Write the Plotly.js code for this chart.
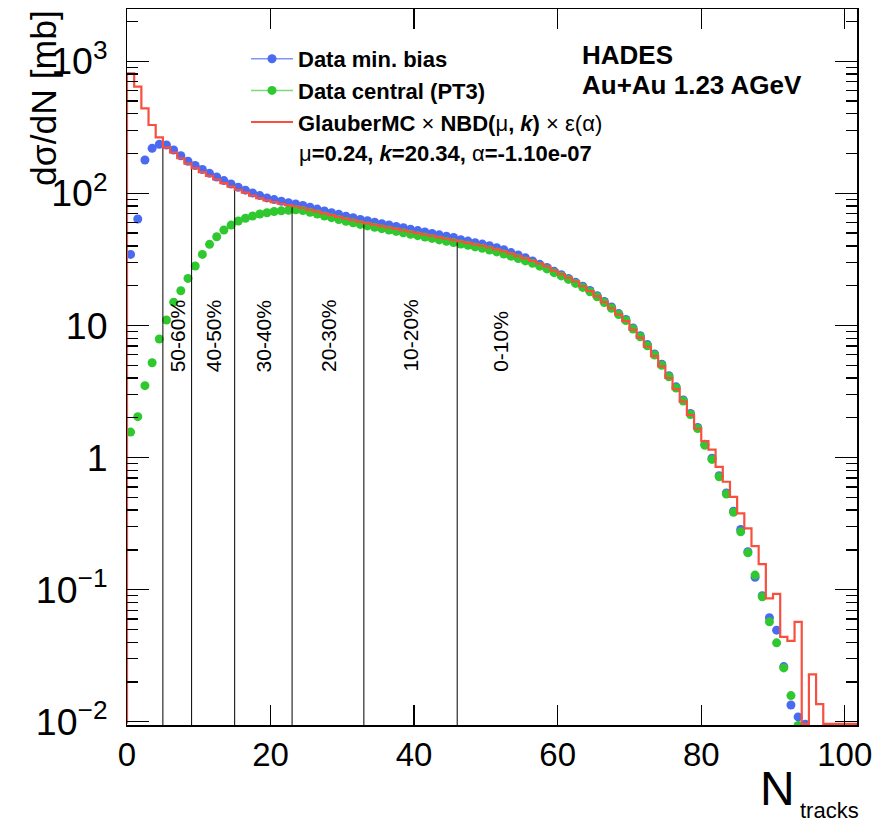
<!DOCTYPE html>
<html>
<head>
<meta charset="utf-8">
<script src="https://cdn.plot.ly/plotly-3.0.1.min.js"></script>
<style>html,body{margin:0;padding:0;background:#fff;}</style>
</head>
<body>
<div id="chart" style="width:892px;height:823px;"></div>
<script>
// ---- data ----
// bin i spans [i, i+1) in N_tracks; markers drawn at bin centres
const minBias = [34.5, 63.9, 178.7, 219, 234.9, 232.1, 212.7, 192.6, 175, 162.3,
  151.4, 141.7, 132.9, 124.8, 117.6, 111.2, 105.6, 100.5, 96.1, 92.3,
  89.6, 87.1, 84.9, 83.0, 80.9, 78.4, 76.0, 73.6, 71.4, 69.3,
  67.2, 65.4, 63.5, 62.0, 60.4, 58.9, 57.6, 56.2, 54.9, 53.5,
  52.2, 51.0, 49.7, 48.5, 47.3, 46.3, 44.5, 43.5, 42.3, 41.3,
  40.1, 38.7, 37.4, 35.6, 34.2, 32.6, 30.8, 29.0, 27.5, 25.7,
  24.2, 22.7, 21.2, 19.8, 18.4, 16.8, 15.2, 13.8, 12.3, 11.1,
  9.58, 8.37, 7.16, 6.09, 5.09, 4.17, 3.43, 2.73, 2.16, 1.69,
  1.26, 0.988, 0.730, 0.540, 0.393, 0.286, 0.194, 0.124, 0.0900, 0.0613,
  0.0494, 0.0262, 0.0134, 0.0109, 0.0096];

const central = [1.56, 2.04, 3.50, 5.22, 7.89, 11.0, 15.0, 18.3, 22.7, 28.2,
  34.5, 41.1, 46.9, 52.8, 57.5, 61.7, 64.7, 67.3, 69.7, 71.3,
  72.8, 73.7, 74.5, 75.0, 74.1, 71.8, 69.6, 67.4, 65.4, 63.4,
  61.5, 59.9, 58.2, 56.7, 55.3, 54.0, 52.7, 51.5, 50.2, 49.0,
  47.8, 46.7, 45.6, 44.4, 43.4, 42.4, 41.3, 40.4, 39.3, 38.4,
  37.2, 36.0, 34.7, 33.4, 32.1, 30.8, 29.5, 28.1, 26.8, 25.1,
  23.7, 22.3, 20.8, 19.4, 18.0, 16.5, 14.9, 13.5, 12.1, 10.9,
  9.39, 8.21, 7.02, 5.97, 4.99, 4.09, 3.36, 2.68, 2.12, 1.66,
  1.24, 0.969, 0.716, 0.529, 0.385, 0.274, 0.190, 0.129, 0.0884, 0.0571,
  0.0396, 0.0256, 0.0158, 0.0094];

// GlauberMC x NBD x eff histogram (0 = empty bin, drawn on the frame bottom like ROOT)
const glauber = [809.8, 641, 440, 328.9, 265.4, 222.1, 203.6, 184.3, 167.5, 155.3,
  144.9, 135.6, 127.2, 119.4, 112.5, 106.4, 101.1, 96.2, 92.0, 88.3,
  85.7, 83.4, 81.3, 79.8, 77.4, 75.0, 72.7, 70.4, 68.3, 66.3,
  64.3, 62.6, 60.8, 59.3, 57.8, 56.4, 55.1, 53.8, 52.5, 51.2,
  50.0, 48.8, 47.6, 46.4, 45.3, 44.3, 43.2, 42.2, 41.1, 40.1,
  38.9, 37.6, 36.3, 34.9, 33.5, 32.2, 30.8, 29.4, 28.0, 26.0,
  24.5, 23.0, 21.5, 19.8, 18.2, 16.6, 15.0, 13.5, 12.1, 10.8,
  9.3, 8.1, 6.9, 5.85, 4.9, 4.0, 3.3, 2.65, 2.1, 1.66,
  1.33, 1.15, 0.85, 0.656, 0.505, 0.378, 0.291, 0.214, 0.156, 0.086,
  0.093, 0.044, 0.041, 0.057, 0, 0.0229, 0.0136, 0, 0, 0,
  0, 0];

const centralityEdges = [5, 9, 15, 23, 33, 46];
const centralityLabels = ['50-60%', '40-50%', '30-40%', '20-30%', '10-20%', '0-10%'];

const legendNames = [
  'Data min. bias',
  'Data central (PT3)',
  'GlauberMC <span style="font-weight:normal">×</span> NBD(<span style="font-weight:normal">μ</span>, <i>k</i>) <span style="font-weight:normal">×</span> <span style="font-weight:normal">ε(α)</span>'
];
const fitParamText = '<span style="font-weight:normal">μ</span>=0.24, <i>k</i>=20.34, <span style="font-weight:normal">α</span>=-1.10e-07';
const expLines = ['HADES', 'Au+Au 1.23 AGeV'];

// ---- layout constants ----
const W = 892, H = 823;
const M = {l: 127, r: 35, t: 9, b: 98};
const PW = W - M.l - M.r, PH = H - M.t - M.b;
const X_RANGE = [0, 101.7];
const Y_LOG = [-2.024, 3.395];
const FONT = 'Liberation Sans, Arial, Helvetica, sans-serif';
const BLUE = '#4a6af2', GREEN = '#2fc92f', RED = '#f8503f';

const px2paperX = p => (p - M.l) / PW;
const px2paperY = p => 1 - (p - M.t) / PH;

const floorVal = Math.pow(10, Y_LOG[0] + 0.009);
const centres = arr => arr.map((_, i) => i + 0.5);

// histogram step path
const hx = [0], hy = [floorVal];
glauber.forEach((v, i) => { hx.push(i); hy.push(v > 0 ? v : floorVal); });
hx.push(glauber.length); hy.push(hy[hy.length - 1]);

// centrality boundary lines, from the frame bottom up to the model value
const lx = [], ly = [];
const belowBottom = Math.pow(10, Y_LOG[0] - 0.2);
centralityEdges.forEach(e => { lx.push(e, e, null); ly.push(belowBottom, glauber[e], null); });

const traces = [
  {x: centres(minBias), y: minBias, type: 'scatter', mode: 'markers',
   marker: {color: BLUE, size: 9}, showlegend: false, cliponaxis: true},
  {x: centres(central), y: central, type: 'scatter', mode: 'markers',
   marker: {color: GREEN, size: 9}, showlegend: false, cliponaxis: true},
  {x: lx, y: ly, type: 'scatter', mode: 'lines', line: {color: '#000', width: 1},
   showlegend: false, hoverinfo: 'skip'},
  {x: hx, y: hy, type: 'scatter', mode: 'lines', line: {color: RED, width: 2.2, shape: 'hv'},
   showlegend: false},
  // legend entries
  {x: [null], y: [null], type: 'scatter', mode: 'lines+markers', name: legendNames[0],
   line: {color: '#7d95f5', width: 1.5}, marker: {color: BLUE, size: 9}},
  {x: [null], y: [null], type: 'scatter', mode: 'lines+markers', name: legendNames[1],
   line: {color: '#79dc79', width: 1.5}, marker: {color: GREEN, size: 9}},
  {x: [null], y: [null], type: 'scatter', mode: 'lines', name: legendNames[2],
   line: {color: RED, width: 2}}
];

const annotations = [];
// centrality labels
const labelY = 0.632; // log10 value of the labels' lower end
centralityLabels.forEach((t, i) => {
  const xc = i < centralityEdges.length - 1 ? (centralityEdges[i] + centralityEdges[i + 1]) / 2
                                            : centralityEdges[i] + 6;
  annotations.push({x: xc, y: labelY, xref: 'x', yref: 'y', text: t, showarrow: false,
    textangle: -90, xanchor: 'center', yanchor: 'bottom',
    font: {family: FONT, size: 21, color: '#000'}});
});
annotations.push({x: px2paperX(297), y: px2paperY(153), xref: 'paper', yref: 'paper',
  text: fitParamText, showarrow: false, xanchor: 'left', yanchor: 'middle',
  font: {family: FONT, size: 22, color: '#000', weight: 'bold'}});
annotations.push({x: px2paperX(580), y: px2paperY(55), xref: 'paper', yref: 'paper',
  text: expLines[0], showarrow: false, xanchor: 'left', yanchor: 'middle',
  font: {family: FONT, size: 26, color: '#000', weight: 'bold'}});
annotations.push({x: px2paperX(580), y: px2paperY(85), xref: 'paper', yref: 'paper',
  text: expLines[1], showarrow: false, xanchor: 'left', yanchor: 'middle',
  font: {family: FONT, size: 26, color: '#000', weight: 'bold'}});
// axis titles
annotations.push({x: px2paperX(44), y: px2paperY(8), xref: 'paper', yref: 'paper',
  text: 'dσ/dN [mb]', showarrow: false, textangle: -90, xanchor: 'center', yanchor: 'top',
  font: {family: FONT, size: 35.5, color: '#000'}});
annotations.push({x: px2paperX(758), y: px2paperY(789), xref: 'paper', yref: 'paper',
  text: 'N', showarrow: false, xanchor: 'left', yanchor: 'middle',
  font: {family: FONT, size: 48, color: '#000'}});
annotations.push({x: px2paperX(798), y: px2paperY(810), xref: 'paper', yref: 'paper',
  text: 'tracks', showarrow: false, xanchor: 'left', yanchor: 'middle',
  font: {family: FONT, size: 22, color: '#000'}});

const layout = {
  width: W, height: H,
  margin: M,
  paper_bgcolor: '#fff', plot_bgcolor: '#fff',
  font: {family: FONT, color: '#000'},
  showlegend: true,
  legend: {x: px2paperX(246), y: px2paperY(38), xanchor: 'left', yanchor: 'top',
    bgcolor: 'rgba(0,0,0,0)', borderwidth: 0, traceorder: 'normal', itemwidth: 42,
    font: {family: FONT, size: 22, color: '#000', weight: 'bold'}},
  xaxis: {range: X_RANGE, tickmode: 'linear', tick0: 0, dtick: 20,
    ticks: 'inside', ticklen: 20, tickwidth: 1.3, tickcolor: '#000',
    mirror: 'ticks', showline: true, linecolor: '#000', linewidth: 1.5,
    showgrid: false, zeroline: false,
    tickfont: {family: FONT, size: 33, color: '#000'}},
  yaxis: {type: 'log', range: Y_LOG, dtick: 1, exponentformat: 'power',
    ticks: 'inside', ticklen: 22, tickwidth: 1.3, tickcolor: '#000',
    minor: {ticks: 'inside', ticklen: 11, tickwidth: 1.3, tickcolor: '#000', dtick: 'D1', showgrid: false},
    mirror: 'ticks', showline: true, linecolor: '#000', linewidth: 1.5,
    showgrid: false, zeroline: false, ticklabelstandoff: 12,
    tickfont: {family: FONT, size: 30, color: '#000'}},
  annotations: annotations
};

Plotly.newPlot('chart', traces, layout, {staticPlot: true, displayModeBar: false});
</script>
</body>
</html>
